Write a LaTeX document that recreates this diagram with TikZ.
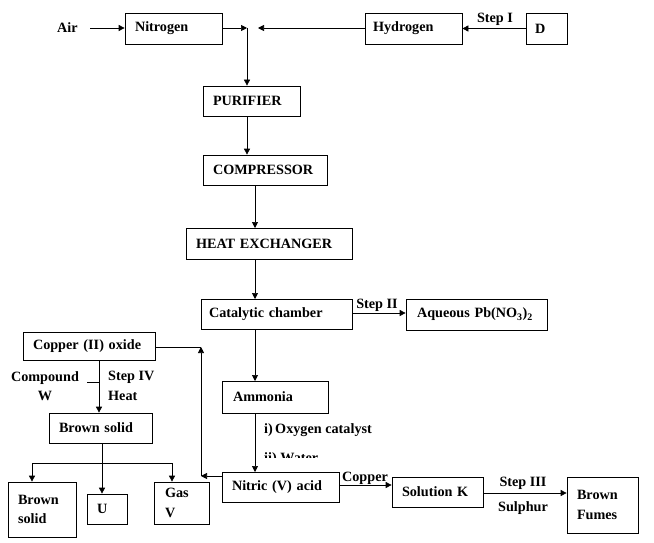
\documentclass[tikz,border=0pt]{standalone}
\usepackage{fontspec}
\setmainfont{Liberation Serif}
\usetikzlibrary{arrows.meta}
\begin{document}
\begin{tikzpicture}[x=1pt,y=-1pt,
  font=\fontsize{14.2}{19.5}\selectfont\bfseries,
  box/.style={draw, line width=0.7pt, align=left, inner ysep=2pt},
  lbl/.style={inner sep=0pt},
  arr/.style={line width=0.7pt, -{Triangle[length=6pt,width=6pt]}},
  ln/.style={line width=0.7pt}]
\useasboundingbox[fill=white] (0,0) rectangle (654,543);
% nodes
\node[box, text width=77pt, inner xsep=10pt, minimum height=31pt] (nitrogen) at (173.5,28.5) {Nitrogen};
\node[box, text width=81pt, inner xsep=8pt, minimum height=31pt] (hydrogen) at (413.5,28.5) {Hydrogen};
\node[box, text width=23pt, inner xsep=9pt, minimum height=31pt] (d) at (546.5,28.5) {D};
\node[box, text width=77pt, inner xsep=10pt, minimum height=30pt] (purifier) at (251.5,101) {PURIFIER};
\node[box, text width=104pt, inner xsep=10pt, minimum height=30pt] (compressor) at (265,170) {COMPRESSOR};
\node[box, text width=146pt, inner xsep=10pt, minimum height=31pt] (hex) at (269,243.5) {HEAT EXCHANGER};
\node[box, text width=135pt, inner xsep=8pt, minimum height=30pt] (cat) at (276.5,314) {Catalytic chamber};
\node[box, text width=119pt, inner xsep=11pt, minimum height=31pt] (aq) at (476.5,314.5) {Aqueous Pb(NO\textsubscript{3})\textsubscript{2}};
\node[box, text width=84pt, inner xsep=11pt, minimum height=32pt] (ammonia) at (275,397) {Ammonia};
\node[box, text width=97pt, inner xsep=10pt, minimum height=30pt] (nitric) at (280.5,487) {Nitric (V) acid};
\node[box, text width=71pt, inner xsep=10pt, minimum height=30pt] (solk) at (437.5,492) {Solution K};
\node[box, text width=51pt, inner xsep=10pt, minimum height=56pt] (fumes) at (602.5,505) {Brown\\Fumes};
\node[box, text width=112pt, inner xsep=10pt, minimum height=28pt] (cuo) at (89,346) {Copper (II) oxide};
\node[box, text width=83pt, inner xsep=10pt, minimum height=30pt] (bsolid) at (100.5,428) {Brown solid};
\node[box, text width=48pt, inner xsep=10pt, minimum height=55pt] (bsolidL) at (42,509.5) {Brown\\solid};
\node[box, text width=20pt, inner xsep=10pt, minimum height=30pt] (u) at (107,509) {U};
\node[box, text width=33pt, inner xsep=11pt, minimum height=42pt] (gasv) at (181.5,503) {Gas\\V};
% labels
\node[lbl, anchor=west] (air) at (57,28) {Air};
\node[lbl] (step1) at (495,19) {Step I};
\node[lbl] (step2) at (377,305) {Step II};
\node[lbl, anchor=west] (oxy) at (264,430) {i)\,Oxygen catalyst};
\begin{scope}
\clip (250,440) rectangle (360,457.5);
\node[lbl, anchor=west] (water) at (264,459) {ii) Water};
\end{scope}
\node[lbl] (copper) at (365,478) {Copper};
\node[lbl] (step3) at (523,483) {Step III};
\node[lbl] (sulphur) at (523,508) {Sulphur};
\node[lbl, align=center] (compw) at (45,386) {Compound\\W};
\node[lbl, align=left, anchor=west] (step4) at (108,386) {Step IV\\Heat};
% coordinates
\coordinate (airend) at (90,28);
\coordinate (j1) at (247,28);
\coordinate (j2) at (258,28);
\coordinate (c1) at (201,476);
\coordinate (c2) at (201,347);
\coordinate (t1) at (87,382);
\coordinate (t2) at (99,382);
\coordinate (s0) at (102,463);
\coordinate (s1) at (32,463);
\coordinate (s3) at (172,463);
% connectors
\draw[arr] (airend) -- (nitrogen.west |- airend);
\draw[arr] (nitrogen.east |- j1) -- (j1);
\draw[arr] (hydrogen.west |- j2) -- (j2);
\draw[arr] (d.west) -- (hydrogen.east);
\draw[arr] (j1) -- (j1 |- purifier.north);
\draw[arr] (purifier.south -| j1) -- (j1 |- compressor.north);
\draw[arr] (255,185) -- (255,228);
\draw[arr] (255,259) -- (255,299);
\draw[arr] (cat.east |- 0,313) -- (aq.west |- 0,313);
\draw[arr] (255,329) -- (255,381);
\draw[arr] (255,413) -- (255,472);
\draw[arr] (nitric.east |- 0,485) -- (solk.west |- 0,485);
\draw[arr] (solk.east |- 0,493) -- (fumes.west |- 0,493);
\draw[arr] (nitric.west |- c1) -- (c1);
\draw[arr] (c1) -- (c2);
\draw[ln] (cuo.east |- c2) -- (c2);
\draw[arr] (t2 |- cuo.south) -- (t2 |- bsolid.north);
\draw[ln] (t1) -- (t2);
\draw[ln] (s0 |- bsolid.south) -- (s0);
\draw[ln] (s1) -- (s3);
\draw[arr] (s1) -- (s1 |- bsolidL.north);
\draw[arr] (s0) -- (s0 |- u.north);
\draw[arr] (s3) -- (s3 |- gasv.north);
\end{tikzpicture}
\end{document}
